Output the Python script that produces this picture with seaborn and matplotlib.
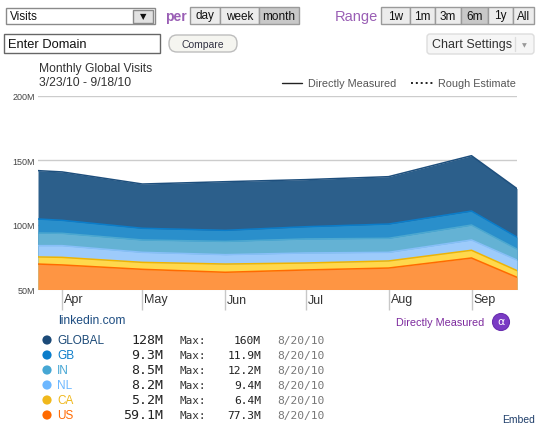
import matplotlib
matplotlib.use("Agg")
import matplotlib.pyplot as plt
import matplotlib.dates as mdates
from matplotlib.patches import Rectangle, FancyBboxPatch, Circle
import numpy as np
import pandas as pd
import seaborn as sns

# data (millions of visits)
dates = ["2010-03-23", "2010-04-01", "2010-05-01", "2010-06-01",
         "2010-07-01", "2010-08-01", "2010-09-01", "2010-09-18"]
us = [69.4, 68.7, 65.3, 63.0, 64.8, 66.3, 74.1, 59.1]
ca = [5.5, 5.9, 5.4, 6.4, 5.4, 5.5, 6.0, 5.2]
nl = [8.8, 9.1, 7.8, 7.3, 7.8, 6.7, 8.0, 8.2]
in_ = [9.8, 9.6, 9.6, 10.3, 10.9, 10.9, 11.6, 8.5]
gb = [10.9, 10.1, 9.1, 8.6, 9.5, 11.1, 10.9, 9.3]
glob = [142.0, 141.0, 131.6, 133.4, 135.0, 137.3, 153.6, 128.0]

month_ticks = ["2010-04-01", "2010-05-01", "2010-06-01",
               "2010-07-01", "2010-08-01", "2010-09-01"]
month_labels = ["Apr", "May", "Jun", "Jul", "Aug", "Sep"]
y_ticks = [50, 100, 150, 200]
y_labels = ["50M", "100M", "150M", "200M"]

names = ["GLOBAL", "GB", "IN", "NL", "CA", "US"]
current = ["128M", "9.3M", "8.5M", "8.2M", "5.2M", "59.1M"]
maxes = ["160M", "11.9M", "12.2M", "9.4M", "6.4M", "77.3M"]
max_dates = ["8/20/10"] * 6

fills = ["#2c5f8b", "#2a8fcb", "#64b2d4", "#9dcbfb", "#ffd84c", "#fe9543"]
edges = ["#1e4f7d", "#0b7dca", "#4ca8d0", "#87bff8", "#f0b400", "#ff6a00"]
dots = ["#1c4a78", "#0b7dca", "#46a7d4", "#6cb7ff", "#f0b81c", "#ff6a00"]

sns.set_style("white")
plt.rcParams["font.family"] = ["Liberation Sans", "DejaVu Sans"]

d = pd.to_datetime(dates)
cum = np.cumsum(np.array([us, ca, nl, in_, gb]), axis=0)
tops = [np.array(glob), cum[4], cum[3], cum[2], cum[1], cum[0]]

W, H = 539, 435
fig = plt.figure(figsize=(W / 100, H / 100), dpi=100)
fig.patch.set_facecolor("white")

# chart axes
ax = fig.add_axes([38 / W, (H - 290) / H, (517 - 38) / W, (290 - 97) / H])
df = pd.DataFrame({"date": np.tile(d, 6),
                   "value": np.concatenate(tops),
                   "series": np.repeat(names, len(d))})
for i, name in enumerate(names):
    ax.fill_between(d, 0, tops[i], color=fills[i], lw=0, zorder=2 + i)
    sns.lineplot(data=df[df.series == name], x="date", y="value",
                 color=edges[i], lw=1.1, ax=ax, zorder=2.5 + i, legend=False)

ax.set_xlim(d[0], d[-1])
ax.set_ylim(50, 200)
ax.set_yticks(y_ticks)
ax.set_yticklabels(y_labels, fontsize=6.5, color="#444")
ax.tick_params(axis="y", length=0, pad=2)
for v in y_ticks[1:]:
    ax.axhline(v, color="#cccccc", lw=1, zorder=1, xmin=-0.003)
ax.set_xticks(pd.to_datetime(month_ticks))
ax.set_xticklabels([])
ax.tick_params(axis="x", bottom=True, length=15, color="#c8c8c8",
               direction="out", width=1)
for t, lab in zip(pd.to_datetime(month_ticks), month_labels):
    ax.annotate(lab, xy=(mdates.date2num(t), 0), xycoords=("data", "axes fraction"),
                xytext=(2, -10.5), textcoords="offset pixels",
                ha="left", va="center", fontsize=9, color="#333")
for s in ["top", "right", "left"]:
    ax.spines[s].set_visible(False)
ax.spines["bottom"].set_color("#cccccc")
ax.set_xlabel("")
ax.set_ylabel("")

# page overlay in pixel coordinates
ov2 = fig.add_axes([0, 0, 1, 1], zorder=10)
ov2.set_xlim(0, W)
ov2.set_ylim(H, 0)
ov2.axis("off")
ov2.patch.set_alpha(0)

purple = "#9a5fb5"

def box(x0, y0, x1, y1, fc, ec, lw=1):
    ov2.add_patch(Rectangle((x0, y0), x1 - x0, y1 - y0, fc=fc, ec=ec, lw=lw))

# row 1
box(6, 9, 155, 25, "white", "#8a8a8a")
ov2.text(10, 17.5, "Visits", fontsize=8.5, va="center", color="#111")
box(133, 10.5, 153, 23.5, "#e2e2e2", "#8a8a8a")
ov2.text(143, 17, "\u25bc", fontsize=6, ha="center", va="center", color="#111",
         family="DejaVu Sans")
ov2.text(165, 16.5, "per", fontsize=10, fontweight="bold", va="center", color=purple)
per_edges = [190, 220, 259, 299]
for j, lab in enumerate(["day", "week", "month"]):
    fc = "#c8c8c8" if lab == "month" else "#ececec"
    box(per_edges[j], 8, per_edges[j + 1], 25, fc, "#9a9a9a")
    ov2.text((per_edges[j] + per_edges[j + 1]) / 2, 16.5, lab, fontsize=8.5,
             ha="center", va="center", color="#111")
ov2.text(335, 16.5, "Range", fontsize=10.5, va="center", color=purple)
rng_edges = [381, 410, 435, 461, 488, 513, 534]
for j, lab in enumerate(["1w", "1m", "3m", "6m", "1y", "All"]):
    fc = "#c8c8c8" if lab == "6m" else "#ececec"
    box(rng_edges[j], 8, rng_edges[j + 1], 25, fc, "#9a9a9a")
    ov2.text((rng_edges[j] + rng_edges[j + 1]) / 2, 16.5, lab, fontsize=8.5,
             ha="center", va="center", color="#111")

# row 2
box(4, 35, 160, 54, "white", "#666666")
ov2.text(8, 44.5, "Enter Domain", fontsize=9.3, va="center", color="#111")
ov2.add_patch(FancyBboxPatch((169, 36), 68, 17, boxstyle="round,pad=0,rounding_size=8",
                             fc="#f5f5f0", ec="#bdbdbd", lw=1))
ov2.text(203, 44.5, "Compare", fontsize=7.5, ha="center", va="center", color="#334")
ov2.add_patch(FancyBboxPatch((427, 35), 107, 20, boxstyle="round,pad=0,rounding_size=3",
                             fc="#f6f6f6", ec="#dddddd", lw=1))
ov2.plot([515, 515], [38, 52], color="#dddddd", lw=1)
ov2.text(472, 45, "Chart Settings", fontsize=9, ha="center", va="center", color="#333")
ov2.text(524.5, 45.5, "\u25bc", fontsize=4.5, ha="center", va="center", color="#999",
         family="DejaVu Sans")

# chart title and line-style key
ov2.text(39, 69, "Monthly Global Visits", fontsize=8.7, va="center", color="#333")
ov2.text(39, 83, "3/23/10 - 9/18/10", fontsize=8.7, va="center", color="#333")
ov2.plot([282, 302], [84, 84], color="#222", lw=1)
ov2.text(308, 84, "Directly Measured", fontsize=7.8, va="center", color="#555")
ov2.plot([411, 435], [84, 84], color="#222", lw=1.4, ls=(0, (1, 1.5)))
ov2.text(438, 84, "Rough Estimate", fontsize=7.8, va="center", color="#555")

# site legend
ov2.text(58, 321, "linkedin.com", fontsize=8.7, va="center", color="#1f4e82")
ov2.text(484, 323, "Directly Measured", fontsize=7.8, ha="right", va="center",
         color="#7d2a9e")
ov2.add_patch(Circle((501, 323), 8.5, fc="#7a3bc4", ec="#6a2fb0", lw=0.8))
ov2.text(501, 322.5, "\u03b1", fontsize=8, ha="center", va="center", color="white",
         family="DejaVu Sans")
row_y = [341, 356, 371, 386, 401, 416]
for j in range(6):
    y = row_y[j]
    ov2.add_patch(Circle((47, y), 4.6, fc=dots[j], ec="none"))
    ov2.text(57, y + 0.5, names[j], fontsize=8.5, va="center", color=dots[j])
    ov2.text(163, y, current[j], fontsize=9.5, ha="right", va="center", color="#222",
             family="DejaVu Sans Mono")
    ov2.text(180, y, "Max:", fontsize=7.9, va="center", color="#333",
             family="DejaVu Sans Mono")
    ov2.text(261, y, maxes[j], fontsize=8.1, ha="right", va="center", color="#222",
             family="DejaVu Sans Mono")
    ov2.text(277, y, max_dates[j], fontsize=8.1, va="center", color="#777",
             family="DejaVu Sans Mono")
ov2.text(535, 420, "Embed", fontsize=7.5, ha="right", va="center", color="#1f3e6a")

fig.savefig("out.png", dpi=100)
